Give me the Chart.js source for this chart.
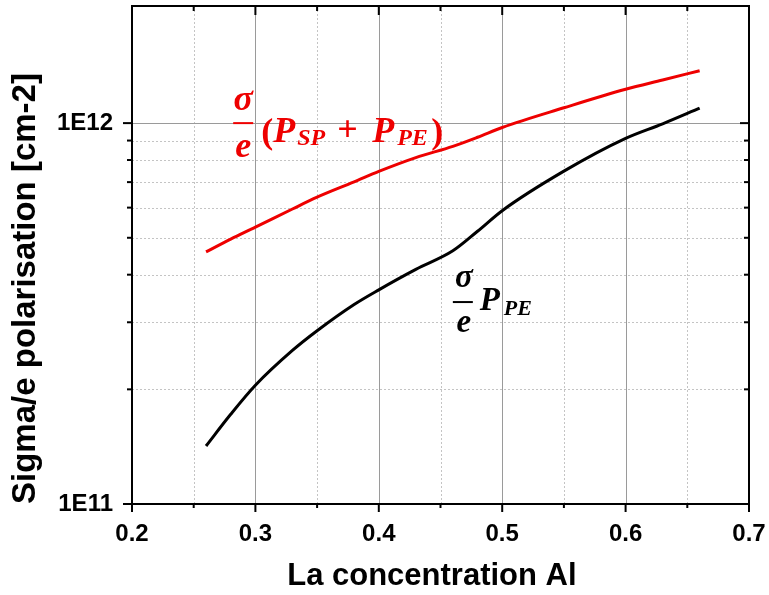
<!DOCTYPE html>
<html>
<head>
<meta charset="utf-8">
<script src="https://cdn.jsdelivr.net/npm/chart.js@4.4.1/dist/chart.umd.min.js"></script>
<style>
  html, body { margin: 0; padding: 0; background: #fff; }
  #wrap { width: 769px; height: 595px; }
</style>
</head>
<body>
<div id="wrap"><canvas id="chart"></canvas></div>
<script>
// ---- data ----
const concentration = [0.26, 0.28, 0.30, 0.33, 0.35, 0.38, 0.40, 0.43, 0.46, 0.48, 0.50, 0.55, 0.60, 0.63, 0.66];
const sigmaSpPe = [4.59e11, 4.96e11, 5.33e11, 5.95e11, 6.39e11, 7.01e11, 7.47e11, 8.12e11, 8.69e11, 9.18e11, 9.74e11, 1.097e12, 1.227e12, 1.298e12, 1.373e12];
const sigmaPe   = [1.42e11, 1.72e11, 2.05e11, 2.53e11, 2.85e11, 3.34e11, 3.65e11, 4.13e11, 4.62e11, 5.20e11, 5.89e11, 7.48e11, 9.12e11, 9.96e11, 1.095e12];

const xMajor = [0.2, 0.3, 0.4, 0.5, 0.6, 0.7];
const xMinor = [0.25, 0.35, 0.45, 0.55, 0.65];
const yMajor = [1e11, 1e12];
const yMinor = [2e11, 3e11, 4e11, 5e11, 6e11, 7e11, 8e11, 9e11];

/* ---- frame, grid, ticks and the formula labels (Origin style) ---- */
const framePlugin = {
  id: 'frame',
  beforeDatasetsDraw(chart) {
    const { ctx, chartArea: a, scales: { x, y } } = chart;
    ctx.save();
    ctx.lineWidth = 1;
    ctx.strokeStyle = '#c4c4c4';
    ctx.setLineDash([2, 2]);
    xMinor.forEach(v => {
      const px = Math.round(x.getPixelForValue(v)) + 0.5;
      ctx.beginPath(); ctx.moveTo(px, a.top); ctx.lineTo(px, a.bottom); ctx.stroke();
    });
    yMinor.forEach(v => {
      const py = Math.round(y.getPixelForValue(v)) + 0.5;
      ctx.beginPath(); ctx.moveTo(a.left, py); ctx.lineTo(a.right, py); ctx.stroke();
    });
    ctx.setLineDash([]);
    ctx.strokeStyle = '#9a9a9a';
    xMajor.slice(1, -1).forEach(v => {
      const px = Math.round(x.getPixelForValue(v)) + 0.5;
      ctx.beginPath(); ctx.moveTo(px, a.top); ctx.lineTo(px, a.bottom); ctx.stroke();
    });
    yMajor.slice(1).forEach(v => {
      const py = Math.round(y.getPixelForValue(v)) + 0.5;
      ctx.beginPath(); ctx.moveTo(a.left, py); ctx.lineTo(a.right, py); ctx.stroke();
    });
    ctx.restore();
  },
  afterDatasetsDraw(chart) {
    const { ctx, chartArea: a, scales: { x, y } } = chart;
    ctx.save();
    ctx.strokeStyle = '#000';
    ctx.lineWidth = 2;
    ctx.strokeRect(a.left, a.top, a.right - a.left, a.bottom - a.top);

    function tick(x1, y1, x2, y2) {
      ctx.beginPath(); ctx.moveTo(x1, y1); ctx.lineTo(x2, y2); ctx.stroke();
    }
    xMajor.forEach(v => {
      const px = x.getPixelForValue(v);
      tick(px, a.bottom, px, a.bottom + 8);
      tick(px, a.top, px, a.top + 9);
    });
    xMinor.forEach(v => {
      const px = x.getPixelForValue(v);
      tick(px, a.bottom, px, a.bottom + 4);
      tick(px, a.top, px, a.top + 5);
    });
    yMajor.forEach(v => {
      const py = y.getPixelForValue(v);
      tick(a.left - 9, py, a.left, py);
      tick(a.right - 9, py, a.right, py);
    });
    yMinor.forEach(v => {
      const py = y.getPixelForValue(v);
      tick(a.left - 5, py, a.left, py);
      tick(a.right - 5, py, a.right, py);
    });

    // formula labels, anchored at the left end of the fraction bar
    function formula(xv, yv, color, size, parts) {
      const ax = x.getPixelForValue(xv);
      const ay = y.getPixelForValue(yv);
      ctx.fillStyle = color;
      ctx.strokeStyle = color;
      ctx.lineWidth = 2;
      ctx.textBaseline = 'alphabetic';
      parts.forEach(p => {
        if (p.bar) {
          ctx.beginPath(); ctx.moveTo(ax, ay); ctx.lineTo(ax + p.bar, ay); ctx.stroke();
          return;
        }
        const fs = p.sub ? Math.round(size * 0.68) : size;
        ctx.font = (p.up ? 'bold ' : 'italic bold ') + fs + "px 'Liberation Serif', serif";
        ctx.textAlign = p.center ? 'center' : 'left';
        ctx.fillText(p.t, ax + p.dx, ay + p.dy);
      });
    }
    formula(0.282, 1e12, '#ee0000', 36, [
      { bar: 20 },
      { t: 'σ', dx: 10, dy: -13, center: true },
      { t: 'e', dx: 10, dy: 34, center: true },
      { t: '(', dx: 28, dy: 20, up: true },
      { t: 'P', dx: 40, dy: 19 },
      { t: 'SP', dx: 64, dy: 22, sub: true },
      { t: '+', dx: 104, dy: 18, up: true },
      { t: 'P', dx: 139, dy: 19 },
      { t: 'PE', dx: 164, dy: 22, sub: true },
      { t: ')', dx: 198, dy: 20, up: true },
    ]);
    formula(0.46, 3.39e11, '#000', 33, [
      { bar: 20 },
      { t: 'σ', dx: 11, dy: -15, center: true },
      { t: 'e', dx: 11, dy: 30, center: true },
      { t: 'P', dx: 27, dy: 8 },
      { t: 'PE', dx: 51, dy: 13, sub: true },
    ]);
    ctx.restore();
  }
};

const axisFont = "'Liberation Sans', Arial, sans-serif";

function noPadding(s) {
  s.paddingTop = 0; s.paddingBottom = 0; s.paddingLeft = 0; s.paddingRight = 0;
}

new Chart(document.getElementById('chart'), {
  type: 'line',
  data: {
    datasets: [
      {
        label: 'sigma/e (Psp + Ppe)',
        data: concentration.map((c, i) => ({ x: c, y: sigmaSpPe[i] })),
        borderColor: '#ee0000',
        borderWidth: 3,
        pointRadius: 0,
        cubicInterpolationMode: 'monotone',
      },
      {
        label: 'sigma/e Ppe',
        data: concentration.map((c, i) => ({ x: c, y: sigmaPe[i] })),
        borderColor: '#000',
        borderWidth: 3,
        pointRadius: 0,
        cubicInterpolationMode: 'monotone',
      },
    ],
  },
  options: {
    responsive: true,
    maintainAspectRatio: false,
    animation: false,
    layout: { padding: { top: 6, right: 20, left: 0, bottom: 0 } },
    plugins: { legend: { display: false }, tooltip: { enabled: false } },
    scales: {
      x: {
        type: 'linear',
        min: 0.2,
        max: 0.7,
        afterBuildTicks: s => { s.ticks = xMajor.map(v => ({ value: v })); },
        afterFit: s => { s.height = 91; noPadding(s); },
        grid: { display: false, drawTicks: false },
        border: { display: false },
        ticks: {
          color: '#000',
          padding: 16,
          maxRotation: 0,
          font: { family: axisFont, size: 24, weight: 'bold' },
          callback: v => v.toFixed(1),
        },
        title: {
          display: true,
          text: 'La concentration Al  ',
          color: '#000',
          padding: { top: 0, bottom: 0 },
          font: { family: axisFont, size: 31, weight: 'bold' },
        },
      },
      y: {
        type: 'logarithmic',
        min: 1e11,
        max: 2.03e12,
        afterBuildTicks: s => { s.ticks = yMajor.map(v => ({ value: v })); },
        afterFit: s => { s.width = 132; noPadding(s); },
        grid: { display: false, drawTicks: false },
        border: { display: false },
        ticks: {
          color: '#000',
          padding: 19,
          font: { family: axisFont, size: 24, weight: 'bold' },
          callback: v => '1E' + Math.round(Math.log10(v)),
        },
        title: {
          display: true,
          text: 'Sigma/e polarisation [cm-2]',
          align: 'start',
          color: '#000',
          padding: { top: 6, bottom: 0 },
          font: { family: axisFont, size: 33, weight: 'bold' },
        },
      },
    },
  },
  plugins: [framePlugin],
});
</script>
</body>
</html>
